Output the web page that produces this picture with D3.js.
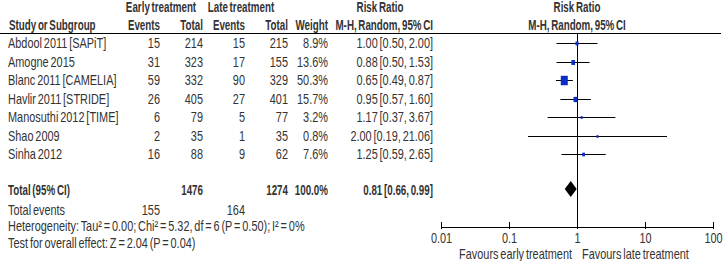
<!DOCTYPE html>
<html>
<head>
<meta charset="utf-8">
<script src="https://cdn.jsdelivr.net/npm/d3@7"></script>
<style>
  body { margin: 0; background: #fff; }
  svg { font-family: "Liberation Sans Narrow", "Arial Narrow", "Liberation Sans", Arial, sans-serif; font-size: 14px; fill: #333; word-spacing: -1.5px; }
</style>
</head>
<body>
<div id="svg-area"></div>
<script>
var svgWidth = 723;
var svgHeight = 261;

// data
var studies = ["Abdool 2011 [SAPiT]", "Amogne 2015", "Blanc 2011 [CAMELIA]", "Havlir 2011 [STRIDE]",
  "Manosuthi 2012 [TIME]", "Shao 2009", "Sinha 2012"];
var earlyEvents = [15, 31, 59, 26, 6, 2, 16];
var earlyTotal = [214, 323, 332, 405, 79, 35, 88];
var lateEvents = [15, 17, 90, 27, 5, 1, 9];
var lateTotal = [215, 155, 329, 401, 77, 35, 62];
var weights = [8.9, 13.6, 50.3, 15.7, 3.2, 0.8, 7.6];
var rr = [1.00, 0.88, 0.65, 0.95, 1.17, 2.00, 1.25];
var lo = [0.50, 0.50, 0.49, 0.57, 0.37, 0.19, 0.59];
var hi = [2.00, 1.53, 0.87, 1.60, 3.67, 21.06, 2.65];
var total = { early: 1476, late: 1274, weight: "100.0%", rr: 0.81, lo: 0.66, hi: 0.99, earlyEv: 155, lateEv: 164 };
var tickValues = [0.01, 0.1, 1, 10, 100];

var svg = d3.select("#svg-area")
  .append("svg")
  .attr("width", svgWidth)
  .attr("height", svgHeight);

var fmt = d3.format(".2f");
var ciText = (r, l, h) => fmt(r) + " [" + fmt(l) + ", " + fmt(h) + "]";

// the reference uses a narrow face; squeeze the fallback horizontally
var squeeze = 0.78;
var squeezeBold = 0.7;

// scales
var xScale = d3.scaleLog().domain([0.01, 100]).range([441, 713]);
var yScale = d3.scaleLinear().domain([0, studies.length - 1]).range([43, 154]);
var sizeScale = d3.scaleSqrt().domain([0, 50.3]).range([0, 7]);

// column right edges
var col = { ev1: 160, tot1: 203, ev2: 245, tot2: 288, wt: 328, ci: 433 };

function txt(x, y, s, anchor, bold) {
  return svg.append("text")
    .attr("transform", "translate(" + x + "," + y + ") scale(" + (bold ? squeezeBold : squeeze) + ",1)")
    .attr("dy", "0.36em")
    .attr("text-anchor", anchor || "end")
    .attr("font-weight", bold ? "bold" : null)
    .text(s);
}

// headers
txt(161, 7, "Early treatment", "middle", true);
txt(241, 7, "Late treatment", "middle", true);
txt(380, 7, "Risk Ratio", "middle", true);
txt(577, 7, "Risk Ratio", "middle", true);
txt(9, 25, "Study or Subgroup", "start", true);
txt(col.ev1, 25, "Events", "end", true);
txt(col.tot1, 25, "Total", "end", true);
txt(col.ev2, 25, "Events", "end", true);
txt(col.tot2, 25, "Total", "end", true);
txt(col.wt, 25, "Weight", "end", true);
txt(col.ci, 25, "M-H, Random, 95% CI", "end", true);
txt(577, 25, "M-H, Random, 95% CI", "middle", true);

svg.append("line")
  .attr("x1", 0).attr("x2", 721)
  .attr("y1", 33.5).attr("y2", 33.5)
  .attr("stroke", "#000").attr("stroke-width", 1);

// study rows
studies.forEach(function(s, i) {
  var y = yScale(i);
  txt(8, y, s, "start");
  txt(col.ev1, y, earlyEvents[i]);
  txt(col.tot1, y, earlyTotal[i]);
  txt(col.ev2, y, lateEvents[i]);
  txt(col.tot2, y, lateTotal[i]);
  txt(col.wt, y, weights[i].toFixed(1) + "%");
  txt(col.ci, y, ciText(rr[i], lo[i], hi[i]));
});

// line of no effect
svg.append("line")
  .attr("x1", Math.round(xScale(1)) + 0.5).attr("x2", Math.round(xScale(1)) + 0.5)
  .attr("y1", 34).attr("y2", 227)
  .attr("stroke", "#000").attr("stroke-width", 1);

// CI lines and squares
var rows = svg.append("g");
studies.forEach(function(s, i) {
  var y = Math.round(yScale(i)) + 0.5;
  rows.append("line")
    .attr("x1", xScale(lo[i])).attr("x2", xScale(hi[i]))
    .attr("y1", y).attr("y2", y)
    .attr("stroke", "#000").attr("stroke-width", 1);
  var w = Math.max(2, sizeScale(weights[i]));
  var h = w * 1.35;
  rows.append("rect")
    .attr("x", xScale(rr[i]) - w / 2)
    .attr("y", y - h / 2)
    .attr("width", w).attr("height", h)
    .attr("fill", "#0a2dc8");
});

// total row
var yT = 190;
txt(8, yT, "Total (95% CI)", "start", true);
txt(col.tot1, yT, total.early, "end", true);
txt(col.tot2, yT, total.late, "end", true);
txt(col.wt, yT, total.weight, "end", true);
txt(col.ci, yT, ciText(total.rr, total.lo, total.hi), "end", true);

svg.append("path")
  .attr("d", "M" + xScale(total.lo) + "," + (yT - 1) +
    "L" + xScale(total.rr) + "," + (yT - 9) +
    "L" + xScale(total.hi) + "," + (yT - 1) +
    "L" + xScale(total.rr) + "," + (yT + 7) + "Z")
  .attr("fill", "#000");

txt(8, 210, "Total events", "start");
txt(col.ev1, 210, total.earlyEv);
txt(col.ev2, 210, total.lateEv);
txt(8, 226, "Heterogeneity: Tau\u00b2 = 0.00; Chi\u00b2 = 5.32, df = 6 (P = 0.50); I\u00b2 = 0%", "start");
txt(8, 243, "Test for overall effect: Z = 2.04 (P = 0.04)", "start");

// axis
var xAxis = d3.axisBottom(xScale)
  .tickValues(tickValues)
  .tickFormat(d => String(d))
  .tickSizeInner(7)
  .tickSizeOuter(0);

var axisG = svg.append("g")
  .attr("transform", "translate(0,222)")
  .call(xAxis);
axisG.attr("font-family", null).attr("font-size", null);
axisG.select(".domain").attr("transform", "translate(0,5)").attr("stroke", "#000");
axisG.selectAll(".tick line").attr("stroke", "#000");
axisG.selectAll(".tick text")
  .attr("y", 11)
  .attr("transform", "scale(" + squeeze + ",1)")
  .attr("fill", "#333");

txt(572, 254, "Favours early treatment", "end");
txt(582, 254, "Favours late treatment", "start");
</script>
</body>
</html>
